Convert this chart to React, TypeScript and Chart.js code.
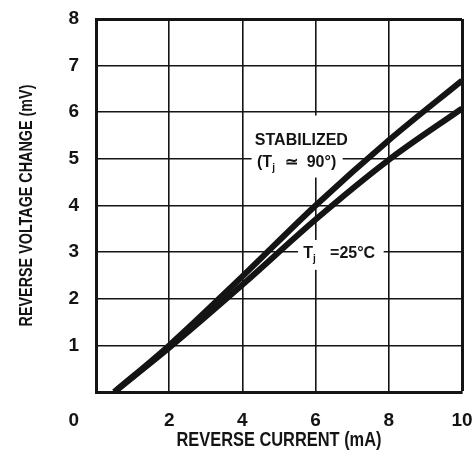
import React, { useEffect, useRef } from 'react';
import { Chart, registerables } from 'chart.js';

Chart.register(...registerables);

// ---- data ----
const currentMA = [0.5, 2, 4, 6, 8, 10];
const stabilizedMV = [0, 1.0, 2.48, 4.0, 5.4, 6.68];
const tj25MV = [0, 0.95, 2.3, 3.7, 4.98, 6.08];
const xTickValues = [0, 2, 4, 6, 8, 10];
const yTickValues = [0, 1, 2, 3, 4, 5, 6, 7, 8];
const xAxisTitle = 'REVERSE CURRENT (mA)';
const yAxisTitle = 'REVERSE VOLTAGE CHANGE (mV)';
const stabilizedLabel = ['STABILIZED', '(T', 'j', '  \u2243  90\u00b0)'];
const tj25Label = ['T', 'j', '   =25\u00b0C'];
const cornerLabel = '0';

const INK = '#141414';
const FAMILY = "'Liberation Sans', Arial, sans-serif";
const TICK_FONT = { family: FAMILY, size: 19, weight: 'bold' as const };
const LABEL_FONT = `bold 16px ${FAMILY}`;
const SUB_FONT = `bold 10px ${FAMILY}`;
const NARROW = 0.82;

type Part = { text: string; sub?: boolean };

function drawRich(ctx: CanvasRenderingContext2D, parts: Part[], x: number, y: number) {
  let cx = x;
  for (const p of parts) {
    ctx.font = p.sub ? SUB_FONT : LABEL_FONT;
    ctx.fillText(p.text, cx, p.sub ? y + 5 : y);
    cx += ctx.measureText(p.text).width + (p.sub ? 1 : 0);
  }
}

const zeroScalePadding = (scale: any) => {
  scale.paddingTop = 0;
  scale.paddingBottom = 0;
  scale.paddingLeft = 0;
  scale.paddingRight = 0;
};

const annotationPlugin = {
  id: 'curveLabels',
  beforeDatasetsDraw(chart: any) {
    const { ctx, scales } = chart;
    const xs = scales.x;
    const ys = scales.y;
    const px = (v: number) => xs.getPixelForValue(v);
    const py = (v: number) => ys.getPixelForValue(v);
    ctx.save();
    // white backgrounds that interrupt the grid
    ctx.fillStyle = '#ffffff';
    ctx.fillRect(px(4.25), py(5.93), px(6.74) - px(4.25), py(4.6) - py(5.93));
    ctx.fillRect(px(5.52), py(3.26), px(7.86) - px(5.52), py(2.62) - py(3.26));
    // texts
    ctx.fillStyle = INK;
    ctx.textBaseline = 'middle';
    ctx.textAlign = 'left';
    ctx.font = LABEL_FONT;
    ctx.fillText(stabilizedLabel[0], px(4.34), py(5.39));
    drawRich(
      ctx,
      [{ text: stabilizedLabel[1] }, { text: stabilizedLabel[2], sub: true }, { text: stabilizedLabel[3] }],
      px(4.4),
      py(4.91)
    );
    drawRich(
      ctx,
      [{ text: tj25Label[0] }, { text: tj25Label[1], sub: true }, { text: tj25Label[2] }],
      px(5.66),
      py(2.96)
    );
    ctx.restore();
  },
  afterDraw(chart: any) {
    const { ctx, scales, chartArea } = chart;
    const xs = scales.x;
    ctx.save();
    ctx.fillStyle = INK;
    // corner "0"
    ctx.font = `${TICK_FONT.weight} ${TICK_FONT.size}px ${TICK_FONT.family}`;
    ctx.textAlign = 'right';
    let y = xs.top + 26;
    let baseline: CanvasTextBaseline = 'middle';
    try {
      const items = xs.getLabelItems ? xs.getLabelItems() : xs._labelItems;
      if (items && items.length) {
        const it = items[items.length - 1];
        y = it.options.translation[1] + (it.textOffset || 0);
        baseline = it.options.textBaseline || 'middle';
      }
    } catch (e) {
      /* ignore */
    }
    ctx.textBaseline = baseline;
    ctx.fillText(cornerLabel, chartArea.left - 17, y);

    // axis titles (condensed lettering)
    ctx.textAlign = 'center';
    ctx.textBaseline = 'middle';
    ctx.save();
    ctx.translate((chartArea.left + chartArea.right) / 2, chart.height - 26);
    ctx.scale(NARROW, 1);
    ctx.font = `bold 20px ${FAMILY}`;
    ctx.fillText(xAxisTitle, 0, 0);
    ctx.restore();

    ctx.save();
    ctx.translate(27, (chartArea.top + chartArea.bottom) / 2);
    ctx.rotate(-Math.PI / 2);
    ctx.scale(NARROW, 1);
    ctx.font = `bold 17.5px ${FAMILY}`;
    ctx.fillText(yAxisTitle, 0, 0);
    ctx.restore();

    ctx.restore();
  },
};

export default function App() {
  const canvasRef = useRef<HTMLCanvasElement | null>(null);

  useEffect(() => {
    const canvas = canvasRef.current;
    if (!canvas) return;
    const chart = new Chart(canvas, {
      type: 'line',
      data: {
        datasets: [
          {
            label: 'STABILIZED',
            data: currentMA.map((x, i) => ({ x, y: stabilizedMV[i] })),
            borderColor: INK,
            borderWidth: 6,
            pointRadius: 0,
            cubicInterpolationMode: 'monotone',
            fill: false,
          },
          {
            label: 'Tj = 25°C',
            data: currentMA.map((x, i) => ({ x, y: tj25MV[i] })),
            borderColor: INK,
            borderWidth: 6,
            pointRadius: 0,
            cubicInterpolationMode: 'monotone',
            fill: false,
          },
        ],
      },
      options: {
        responsive: false,
        animation: false,
        events: [],
        layout: { padding: { top: 19, right: 12, left: 0, bottom: 0 } },
        plugins: {
          legend: { display: false },
          tooltip: { enabled: false },
        },
        scales: {
          x: {
            type: 'linear',
            min: 0,
            max: 10,
            afterBuildTicks: (scale: any) => {
              scale.ticks = xTickValues.map((v) => ({ value: v }));
            },
            afterFit: (scale: any) => {
              scale.height = 74;
              zeroScalePadding(scale);
            },
            ticks: {
              color: INK,
              font: TICK_FONT,
              padding: 17,
              maxRotation: 0,
              autoSkip: false,
              callback: (v: any) => (Number(v) === 0 ? '' : String(v)),
            },
            grid: {
              color: INK,
              lineWidth: (c: any) => (c.tick && c.tick.value === 10 ? 3 : 1.6),
              drawTicks: false,
            },
            border: { display: true, color: INK, width: 3 },
            title: { display: false, text: xAxisTitle },
          },
          y: {
            type: 'linear',
            min: 0,
            max: 8,
            afterBuildTicks: (scale: any) => {
              scale.ticks = yTickValues.map((v) => ({ value: v }));
            },
            afterFit: (scale: any) => {
              scale.width = 96;
              zeroScalePadding(scale);
            },
            ticks: {
              color: INK,
              font: TICK_FONT,
              padding: 17,
              autoSkip: false,
              callback: (v: any) => (Number(v) === 0 ? '' : String(v)),
            },
            grid: {
              color: INK,
              lineWidth: (c: any) => (c.tick && c.tick.value === 8 ? 3 : 1.6),
              drawTicks: false,
            },
            border: { display: true, color: INK, width: 3 },
            title: { display: false, text: yAxisTitle },
          },
        },
      },
      plugins: [annotationPlugin],
    });
    return () => chart.destroy();
  }, []);

  return (
    <div style={{ position: 'absolute', left: 0, top: 0, width: 474, height: 466, background: '#fff' }}>
      <canvas ref={canvasRef} width={474} height={466} />
    </div>
  );
}
